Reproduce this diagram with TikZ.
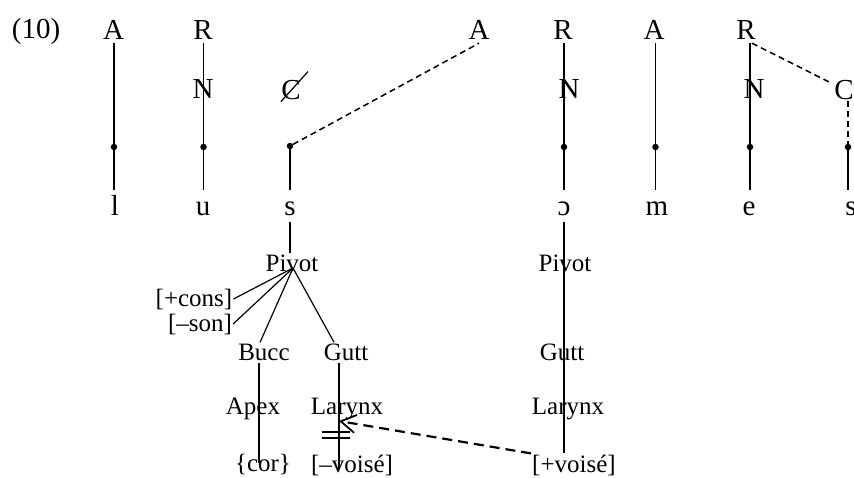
\documentclass[tikz,border=0pt]{standalone}
\usepackage{fontspec}
\setmainfont{Liberation Serif}
\usetikzlibrary{calc,arrows.meta}
\begin{document}
\begin{tikzpicture}[x=1pt,y=-1pt,
  every node/.style={font=\fontsize{25}{30}\selectfont},
  big/.style={font=\fontsize{29}{34}\selectfont},
  toplbl/.style={big,anchor=base,inner sep=4pt},
  lowlbl/.style={big,anchor=base,inner sep=4pt,text height=21pt,text depth=3pt},
  midlbl/.style={big,anchor=base,inner sep=2pt},
  feat/.style={anchor=base,inner sep=1pt},
  ln/.style={line width=1.8pt},
  tline/.style={line width=1.2pt},
  dsh/.style={line width=1.5pt,dash pattern=on 6pt off 4pt},
  dsharrow/.style={line width=2.2pt,dash pattern=on 10pt off 6pt,-{Straight Barb[length=15pt,width=18pt,line width=1.8pt]}},
  dotn/.style={circle,fill,inner sep=0pt,minimum size=6.5pt}]
\useasboundingbox (0,0) rectangle (854,477);
% example number
\node[big,anchor=base,inner sep=0pt] (ex) at (36,38) {(10)};
% column 1
\node[toplbl] (A1) at (113.5,39) {A};
\node[dotn] (d1) at (114,147) {};
\node[lowlbl] (l1) at (115,215) {l};
\draw[ln] (A1.south -| d1) -- (d1) -- (d1 |- l1.north);
% column 2
\node[toplbl] (R2) at (203,39) {R};
\node[midlbl] (N2) at (203,98) {N};
\node[dotn] (d2) at (203.5,147) {};
\node[lowlbl] (u2) at (203,215) {u};
\draw[ln] (R2.south -| d2) -- (d2) -- (d2 |- u2.north);
% column 3
\node[midlbl] (C3) at (291,99) {C};
\draw[tline] ($(C3.center)+(-10,12)$) -- ($(C3.center)+(17,-18)$);
\node[dotn] (d3) at (290,146) {};
\node[lowlbl] (s3) at (290,215) {s};
\draw[ln] (d3) -- (d3 |- s3.north);
\node[toplbl] (A3) at (479,39) {A};
\draw[dsh] (d3) -- (A3.south);
% column 4
\node[toplbl] (R4) at (563,39) {R};
\node[midlbl] (N4) at (569,98) {N};
\node[dotn] (d4) at (564,147) {};
\node[lowlbl] (o4) at (564,215) {ɔ};
\draw[ln] (R4.south -| d4) -- (d4) -- (d4 |- o4.north);
% column 5
\node[toplbl] (A5) at (654,39) {A};
\node[dotn] (d5) at (655.5,147) {};
\node[lowlbl] (m5) at (657,215) {m};
\draw[ln] (A5.south -| d5) -- (d5) -- (d5 |- m5.north);
% column 6
\node[toplbl] (R6) at (746,39) {R};
\node[midlbl] (N6) at (754,98) {N};
\node[dotn] (d6) at (750,147) {};
\node[lowlbl] (e6) at (749,215) {e};
\draw[ln] (R6.south -| d6) -- (d6) -- (d6 |- e6.north);
% column 7
\node[midlbl] (C7) at (844,99) {C};
\node[dotn] (d7) at (848,147) {};
\node[lowlbl] (s7) at (851,215) {s};
\draw[dsh] ($(R6.south)+(6,0)$) -- ($(C7.west)+(0,-6)$);
\draw[dsh] (C7.south -| d7) -- (d7);
\draw[ln] (d7) -- (d7 |- s7.north);
% left tree
\node[feat] (pv1) at (292,271) {Pivot};
\coordinate (pj) at (293,268);
\node[feat] (pc) at (194,306) {[+cons]};
\node[feat] (ps) at (200,331) {[–son]};
\node[feat] (bu) at (264,360) {Bucc};
\node[feat] (gu) at (346,360) {Gutt};
\node[feat] (ap) at (253,414) {Apex};
\node[feat] (la) at (347,414) {Larynx};
\node[feat] (co) at (263,471) {\{cor\}};
\node[feat] (mv) at (352,472) {[–voisé]};
\draw[tline] (s3.south) -- (s3.south |- pv1.north);
\draw[tline] (pj) -- (pc.east);
\draw[tline] (pj) -- (ps.east);
\draw[tline] (pj) -- ($(bu.north)+(-4,0)$);
\draw[tline] (pj) -- ($(gu.north)+(-12,0)$);
\draw[tline] ($(bu.south)+(-5,2)$) -- ($(co.base)+(-4,-8)$);
\draw[tline] ($(gu.south)+(-7,2)$) -- ($(mv.base)+(-13,-3)$);
\coordinate (eq) at ($(la.base)+(-9,21)$);
\draw[tline] ($(eq)+(-16,-3)$) -- ($(eq)+(12,-3)$);
\draw[tline] ($(eq)+(-16,3)$) -- ($(eq)+(12,3)$);
% right tree
\node[feat] (pv2) at (565,271) {Pivot};
\node[feat] (gu2) at (562,360) {Gutt};
\node[feat] (la2) at (568,414) {Larynx};
\node[feat] (pvz) at (574,472) {[+voisé]};
\draw[tline] (o4.south) -- (o4.south |- pvz.north);
% arrow
\coordinate (tip) at (339,421);
\draw[dsharrow] (pvz.north west) -- (tip);
\end{tikzpicture}
\end{document}
